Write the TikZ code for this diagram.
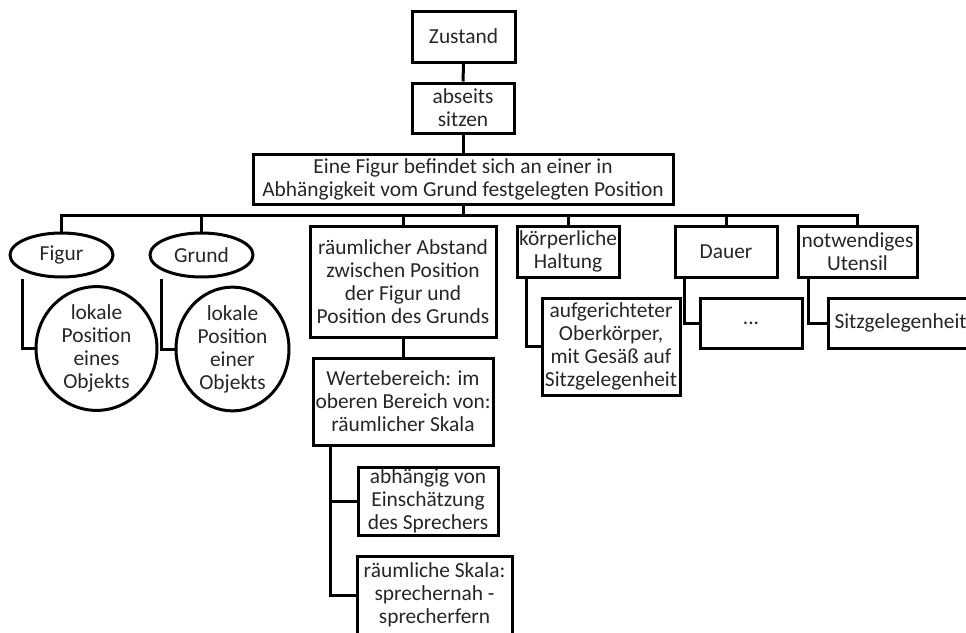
\documentclass[tikz,border=0pt]{standalone}
\usepackage{fontspec}
\setmainfont{Carlito}
\usetikzlibrary{shapes.geometric}
\begin{document}
\begin{tikzpicture}[x=1pt,y=-1pt,
  every node/.style={font=\fontsize{21.4}{23}\selectfont, text=black!85, inner sep=0pt, align=center},
  box/.style={draw=black, line width=3pt, rectangle},
  oval/.style={draw=black, line width=3pt, ellipse},
  link/.style={draw=black, line width=3pt, line join=miter}
]
\clip (0,0) rectangle (966,632);

% top chain
\node[box, minimum width=103, minimum height=51] (zustand) at (463.5,36.5) {Zustand};
\node[box, minimum width=102, minimum height=50] (abseits) at (463,108) {abseits\\sitzen};
\node[box, minimum width=420, minimum height=50] (big) at (463,179) {Eine Figur befindet sich an einer in\\Abhängigkeit vom Grund festgelegten Position};

% first level
\node[oval, minimum width=103, minimum height=44] (figur) at (61.5,255) {Figur};
\node[oval, minimum width=103, minimum height=44] (grund) at (201.5,255) {Grund};
\node[box, minimum width=186, minimum height=111] (abstand) at (403,281.5) {räumlicher Abstand\\zwischen Position\\der Figur und\\Position des Grunds};
\node[box, minimum width=102, minimum height=51] (koerper) at (568,251.5) {körperliche\\Haltung};
\node[box, minimum width=102, minimum height=51] (dauer) at (726,251.5) {Dauer};
\node[box, minimum width=119, minimum height=51] (utensil) at (857.5,251.5) {notwendiges\\Utensil};

% second level
\node[oval, minimum width=121, minimum height=103] (lokal1) at (96.5,348.5) {lokale\\Position\\eines\\Objekts};
\node[oval, minimum width=113, minimum height=102] (lokal2) at (232.5,349) {lokale\\Position\\einer\\Objekts};
\node[box, minimum width=180, minimum height=87] (werte) at (403,401.5) {Wertebereich: im\\oberen Bereich von:\\räumlicher Skala};
\node[box, minimum width=138, minimum height=97] (aufg) at (611,346.5) {aufgerichteter\\Oberkörper,\\mit Gesäß auf\\Sitzgelegenheit};
\node[box, minimum width=102, minimum height=50] (dots) at (751,323) {...};
\node[box, anchor=west, minimum height=50, text width=148, align=left, inner xsep=6pt] (sitz) at (827,323) {Sitzgelegenheit};

% third level
\node[box, minimum width=140, minimum height=68] (abh) at (428,501) {abhängig von\\Einschätzung\\des Sprechers};
\node[box, minimum width=155, minimum height=78] (skala) at (434.5,595) {räumliche Skala:\\sprechernah -\\sprecherfern};

% connectors
\coordinate (bus) at (0,215);
\draw[link] (zustand) -- (abseits);
\draw[link] (abseits) -- (big);
\draw[link] (big.south) -- (big.south |- bus);
\draw[link] (figur.north) -- (figur.north |- bus) -- (utensil.north |- bus) -- (utensil.north);
\foreach \n in {grund,abstand,koerper,dauer}
  \draw[link] (\n.north) -- (\n.north |- bus);

\draw[link] ([xshift=-39pt]figur.south) |- (lokal1.west);
\draw[link] ([xshift=-40pt]grund.south) |- (lokal2.west);
\draw[link] (abstand) -- (werte);
\draw[link] ([xshift=11pt]koerper.south west) |- (aufg.west);
\draw[link] ([xshift=11pt]dauer.south west) |- (dots.west);
\draw[link] ([xshift=12pt]utensil.south west) |- (sitz.west);
\draw[link] ([xshift=19pt]werte.south west) |- (abh.west);
\draw[link] ([xshift=19pt]werte.south west) |- (skala.west);
\end{tikzpicture}
\end{document}
